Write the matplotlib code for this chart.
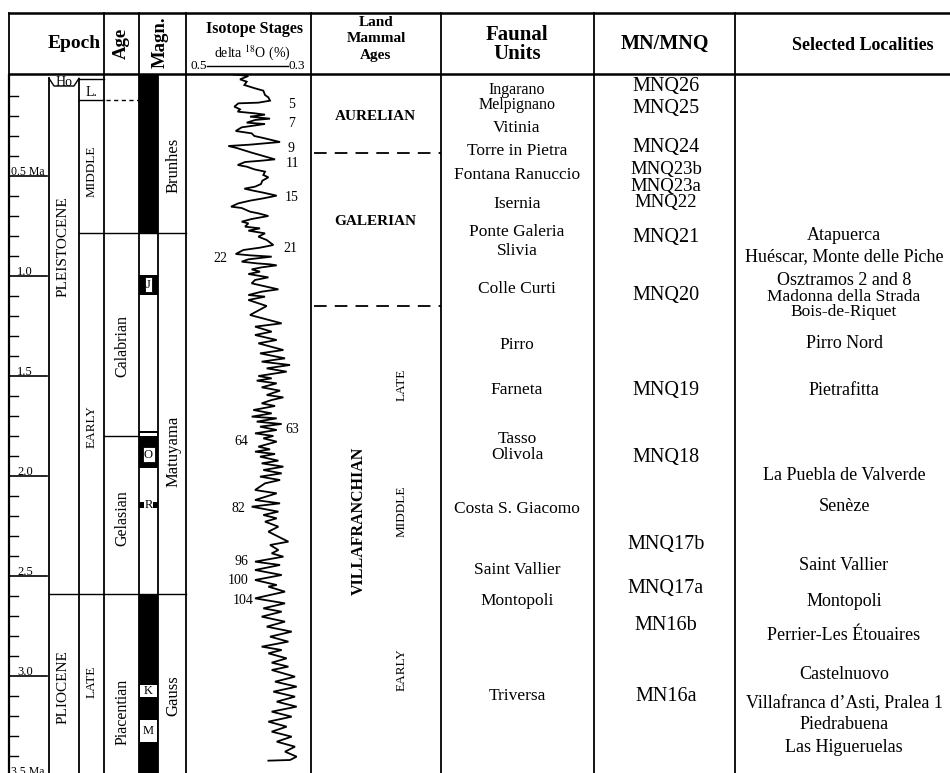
import matplotlib
matplotlib.use("Agg")
import matplotlib.pyplot as plt
from matplotlib.patches import Rectangle
from matplotlib.transforms import blended_transform_factory

plt.rcParams['font.family'] = ['Liberation Serif', 'DejaVu Serif']
plt.rcParams['mathtext.fontset'] = 'stix'

# ------------------------------------------------------------------ data
# isotope curve (age in Ma, delta 18O value)
iso_age = [-0.01, 0.0, 0.0167, 0.0283, 0.045, 0.0617, 0.0733, 0.095, 0.1067, 0.1233,
           0.1333, 0.1367, 0.1533, 0.1667, 0.1783, 0.1867, 0.1933, 0.2033, 0.2133, 0.22,
           0.2333, 0.24, 0.2567, 0.275, 0.2867, 0.30, 0.31, 0.33, 0.3367, 0.3433,
           0.35, 0.36, 0.3833, 0.40, 0.4167, 0.4233, 0.43, 0.445, 0.4533, 0.4667,
           0.4783, 0.495, 0.5067, 0.5233, 0.54, 0.5533, 0.5633, 0.5733, 0.5833, 0.5983,
           0.6117, 0.6233, 0.6367, 0.6533, 0.66, 0.6783, 0.6867, 0.70, 0.715, 0.7283,
           0.7367, 0.7533, 0.7617, 0.7733, 0.7867, 0.8033, 0.82, 0.845, 0.8583, 0.87,
           0.89, 0.8967, 0.9033, 0.9167, 0.9283, 0.9367, 0.9417, 0.9467, 0.9567, 0.9667,
           0.9783, 0.99, 1.0067, 1.02, 1.0367, 1.0667, 1.0783, 1.095, 1.1033, 1.12,
           1.15, 1.195, 1.2367, 1.2533, 1.2783, 1.295, 1.32, 1.3367, 1.37, 1.3867,
           1.4117, 1.4283, 1.445, 1.4617, 1.4783, 1.50, 1.5117, 1.5233, 1.5367, 1.5567,
           1.5733, 1.595, 1.6067, 1.62, 1.6367, 1.65, 1.67, 1.6867, 1.7033, 1.7117,
           1.7283, 1.74, 1.7533, 1.77, 1.7867, 1.80, 1.8117, 1.8283, 1.8533, 1.8667,
           1.8783, 1.89, 1.9033, 1.9233, 1.9367, 1.9533, 1.97, 1.9867, 2.0033, 2.02,
           2.0367, 2.07, 2.0867, 2.12, 2.1367, 2.1533, 2.1783, 2.195, 2.2117, 2.2283,
           2.2533, 2.2783, 2.3283, 2.345, 2.37, 2.3867, 2.4033, 2.4283, 2.445, 2.47,
           2.495, 2.52, 2.545, 2.5533, 2.5783, 2.6117, 2.6367, 2.6617, 2.6783, 2.7033,
           2.7283, 2.7533, 2.7783, 2.8033, 2.8283, 2.8533, 2.87, 2.8867, 2.9117, 2.9333,
           2.9533, 2.97, 3.0033, 3.0283, 3.0533, 3.0783, 3.1033, 3.1283, 3.1533, 3.1783,
           3.2033, 3.2283, 3.2533, 3.2783, 3.3033, 3.3283, 3.3533, 3.3783, 3.4033, 3.42,
           3.4233]
iso_d18o = [0.4432, 0.3979, 0.4185, 0.4020, 0.4078, 0.3814, 0.3609, 0.3568, 0.3485, 0.3444,
            0.3732, 0.4226, 0.4325, 0.4185, 0.4242, 0.3814, 0.3568, 0.3938, 0.3444, 0.3814,
            0.4020, 0.3568, 0.4144, 0.4292, 0.3897, 0.3831, 0.3609, 0.3197, 0.3568, 0.3938,
            0.4473, 0.4267, 0.3897, 0.3609, 0.3321, 0.3650, 0.4061, 0.4242, 0.4020, 0.3831,
            0.3568, 0.3609, 0.3485, 0.3633, 0.3666, 0.3814, 0.4078, 0.3856, 0.3609, 0.3279,
            0.3609, 0.3938, 0.4226, 0.4407, 0.4144, 0.3938, 0.3732, 0.3485, 0.3897, 0.4144,
            0.3979, 0.4061, 0.3691, 0.3979, 0.3568, 0.3732, 0.3526, 0.3362, 0.3691, 0.4102,
            0.4292, 0.3938, 0.3403, 0.3979, 0.4144, 0.3773, 0.3444, 0.3279, 0.3650, 0.3897,
            0.3691, 0.3979, 0.3485, 0.3814, 0.3897, 0.3238, 0.3650, 0.3979, 0.3568, 0.3979,
            0.3526, 0.3938, 0.3156, 0.3814, 0.3403, 0.3814, 0.3279, 0.3732, 0.3115, 0.3691,
            0.3074, 0.3650, 0.2950, 0.3526, 0.3033, 0.3732, 0.3403, 0.3773, 0.3279, 0.3650,
            0.3197, 0.3526, 0.3115, 0.3403, 0.3650, 0.3321, 0.3856, 0.3403, 0.3897, 0.3279,
            0.3773, 0.3156, 0.3691, 0.3279, 0.3814, 0.3362, 0.3609, 0.3279, 0.3732, 0.3444,
            0.3814, 0.3321, 0.3691, 0.3238, 0.3650, 0.3115, 0.3609, 0.3156, 0.3691, 0.3197,
            0.3568, 0.3814, 0.3279, 0.3814, 0.3197, 0.3897, 0.3238, 0.3609, 0.3279, 0.3568,
            0.3238, 0.3485, 0.2991, 0.3444, 0.3238, 0.3403, 0.3115, 0.3814, 0.3197, 0.3814,
            0.3156, 0.3814, 0.3279, 0.3485, 0.3074, 0.3814, 0.3074, 0.3609, 0.3156, 0.3650,
            0.3074, 0.3526, 0.2909, 0.3444, 0.2991, 0.3650, 0.3156, 0.3485, 0.3033, 0.3403,
            0.2991, 0.3403, 0.2827, 0.3321, 0.2786, 0.3362, 0.2827, 0.3279, 0.2786, 0.3403,
            0.2909, 0.3485, 0.3033, 0.3403, 0.2909, 0.3279, 0.2827, 0.3074, 0.2786, 0.2950,
            0.3485]

stage_numbers = ['5', '7', '9', '11', '15', '21', '22', '63', '64', '82', '96', '100', '104']
stage_ages = [0.1335, 0.2283, 0.3533, 0.4283, 0.60, 0.8567, 0.9033, 1.7617, 1.82,
              2.1533, 2.42, 2.5167, 2.6167]
stage_label_d18o = [0.2921, 0.2921, 0.2914, 0.2894, 0.2921, 0.2951, 0.4679, 0.2894,
                    0.4143, 0.4227, 0.4143, 0.4227, 0.4104]

# magnetostratigraphy
normal_start = [-0.01, 0.995, 1.775, 2.1285, 2.59]
normal_end = [0.785, 1.095, 1.96, 2.1615, 3.49]
reversed_start = [1.787, 3.045, 3.22]
reversed_end = [1.80, 3.105, 3.33]
subchron_names = ['J', 'O', 'R', 'K', 'M']
subchron_ages = [1.045, 1.895, 2.145, 3.075, 3.275]
chron_names = ['Brunhes', 'Matuyama', 'Gauss']
chron_label_ages = [0.445, 1.875, 3.10]

# chronostratigraphy
epoch_names = ['PLEISTOCENE', 'PLIOCENE']
epoch_label_ages = [0.855, 3.055]
subepoch_names = ['MIDDLE', 'EARLY', 'LATE']
subepoch_label_ages = [0.475, 1.755, 3.03]
age_names = ['Calabrian', 'Gelasian', 'Piacentian']
age_label_ages = [1.35, 2.21, 3.18]
holocene_top, holocene_box_base = 0.0115, 0.05
upper_pleist_top, upper_pleist_base = 0.015, 0.12
middle_early_boundary = 0.785
calabrian_gelasian_boundary = 1.7985
plio_pleisto_boundary = 2.59

# land mammal ages
lma_names = ['AURELIAN', 'GALERIAN', 'VILLAFRANCHIAN']
lma_label_ages = [0.195, 0.72, 2.2235]
lma_boundaries = [0.3865, 1.15]
villa_sub_names = ['LATE', 'MIDDLE', 'EARLY']
villa_sub_ages = [1.545, 2.1785, 2.97]

faunal_units = ['Ingarano', 'Melpignano', 'Vitinia', 'Torre in Pietra', 'Fontana Ranuccio',
                'Isernia', 'Ponte Galeria', 'Slivia', 'Colle Curti', 'Pirro', 'Farneta',
                'Tasso', 'Olivola', 'Costa S. Giacomo', 'Saint Vallier', 'Montopoli',
                'Triversa']
faunal_ages = [0.058, 0.134, 0.25, 0.3665, 0.4865, 0.6285, 0.77, 0.8665, 1.0535,
               1.3365, 1.5615, 1.8035, 1.8865, 2.1535, 2.4615, 2.615, 3.0915]

mn_zones = ['MNQ26', 'MNQ25', 'MNQ24', 'MNQ23b', 'MNQ23a', 'MNQ22', 'MNQ21', 'MNQ20',
            'MNQ19', 'MNQ18', 'MNQ17b', 'MNQ17a', 'MN16b', 'MN16a']
mn_ages = [0.04, 0.15, 0.345, 0.457, 0.541, 0.624, 0.795, 1.0865, 1.5615, 1.895,
           2.3285, 2.55, 2.7335, 3.09]

localities = ['Atapuerca', 'Huéscar, Monte delle Piche', 'Osztramos 2 and 8',
              'Madonna della Strada', 'Bois-de-Riquet', 'Pirro Nord', 'Pietrafitta',
              'La Puebla de Valverde', 'Senèze', 'Saint Vallier', 'Montopoli',
              'Perrier-Les Étouaires', 'Castelnuovo', 'Villafranca d\u2019Asti, Pralea 1',
              'Piedrabuena', 'Las Higueruelas']
locality_ages = [0.7865, 0.895, 1.0115, 1.096, 1.172, 1.3285, 1.5615, 1.9865, 2.145,
                 2.4365, 2.62, 2.7865, 2.9835, 3.1285, 3.2335, 3.345]

time_major = [0.5, 1.0, 1.5, 2.0, 2.5, 3.0, 3.5]
time_major_labels = ['0.5 Ma', '1.0', '1.5', '2.0', '2.5', '3.0', '3.5 Ma']
time_minor = [0.1, 0.2, 0.3, 0.4, 0.6, 0.7, 0.8, 0.9, 1.1, 1.2, 1.3, 1.4, 1.6, 1.7,
              1.8, 1.9, 2.1, 2.2, 2.3, 2.4, 2.6, 2.7, 2.8, 2.9, 3.1, 3.2, 3.3, 3.4]

# ------------------------------------------------------------------ layout
W, H = 950, 773
HEAD = 74
T_TOP, T_BOT = -0.01, 3.485
X_LEFT, X_TICK, X_EPOCH2, X_AGE, X_MAG, X_MAG2, X_ISO, X_LMA, X_FU, X_MN, X_LOC = \
    9, 49, 79, 104, 139, 158, 186, 311, 441, 594, 735
LW = 1.3

fig = plt.figure(figsize=(W / 100, H / 100), dpi=100)
body_h = (H - HEAD) / H
ax = fig.add_axes([0, 0, 1, body_h])
ax.set_xlim(0, W)
ax.set_ylim(T_BOT, T_TOP)
ax.axis('off')

hx = fig.add_axes([0, body_h, 1, HEAD / H])
hx.set_xlim(0, W)
hx.set_ylim(HEAD, 0)
hx.axis('off')

iso = fig.add_axes([X_ISO / W, 0, (X_LMA - X_ISO) / W, body_h])
iso.set_xlim(0.5519, 0.2432)
iso.set_ylim(T_BOT, T_TOP)
iso.axis('off')

# ---------------- header
hx.plot([X_LEFT, W], [13, 13], color='k', lw=1.8, clip_on=False)
hx.plot([X_LEFT, W], [HEAD, HEAD], color='k', lw=1.8, clip_on=False)
for xv in [X_LEFT, X_AGE, X_MAG, X_ISO, X_LMA, X_FU, X_MN, X_LOC]:
    hx.plot([xv, xv], [13, HEAD], color='k', lw=LW)

hb = dict(fontweight='bold', ha='center', va='center')
hx.text(74, 43, 'Epoch', fontsize=14, **hb)
hx.text(121, 43, 'Age', fontsize=13.5, rotation=90, **hb)
hx.text(160, 42, 'Magn.', fontsize=13.5, rotation=90, **hb)
hx.text(254, 29, 'Isotope Stages', fontsize=11.5, **hb)
hx.text(252, 53, r'delta $^{18}$O (%)', fontsize=10, ha='center', va='center')
tr = blended_transform_factory(iso.transData, hx.transData)
hx.plot([0.5, 0.3], [66, 66], color='k', lw=1.0, transform=tr)
hx.text(0.5, 66, '0.5', fontsize=9.5, ha='right', va='center', transform=tr)
hx.text(0.3, 66, '0.3', fontsize=9.5, ha='left', va='center', transform=tr)
hx.text(376, 23, 'Land', fontsize=11, **hb)
hx.text(376, 39, 'Mammal', fontsize=11, **hb)
hx.text(376, 56, 'Ages', fontsize=11, **hb)
hx.text(517, 35, 'Faunal', fontsize=15, **hb)
hx.text(517, 54, 'Units', fontsize=15, **hb)
hx.text(665, 44, 'MN/MNQ', fontsize=14.5, **hb)
hx.text(863, 45, 'Selected Localities', fontsize=13, **hb)

# ---------------- body frame lines
ax.plot([X_LEFT, X_LEFT], [T_TOP, T_BOT], color='k', lw=1.6)
ax.plot([X_TICK, X_TICK], [holocene_top, T_BOT], color='k', lw=LW)
ax.plot([X_EPOCH2, X_EPOCH2], [upper_pleist_top, T_BOT], color='k', lw=LW)
for xv in [X_AGE, X_MAG, X_MAG2, X_ISO, X_LMA, X_FU, X_MN, X_LOC]:
    ax.plot([xv, xv], [T_TOP, T_BOT], color='k', lw=LW)

# time scale ticks
for t in time_minor:
    ax.plot([10, 18], [t, t], color='k', lw=1.0)
for t, lab in zip(time_major, time_major_labels):
    ax.plot([10, 47], [t, t], color='k', lw=1.2, clip_on=False)
    if lab.endswith('Ma'):
        ax.text(11, t - 0.006, lab, fontsize=8.5, ha='left', va='baseline')
    else:
        ax.text(25, t - 0.006, lab, fontsize=9, ha='center', va='baseline')

# Holocene callout and upper Pleistocene box
ax.plot([X_TICK, 54, 74, X_EPOCH2], [holocene_top, holocene_box_base, holocene_box_base,
        holocene_top], color='k', lw=1.0)
ax.text(64, (holocene_top + holocene_box_base) / 2 + 0.003, 'Ho', fontsize=10,
        ha='center', va='center')
ax.plot([X_EPOCH2, X_AGE], [upper_pleist_top, upper_pleist_top], color='k', lw=1.0)
ax.plot([X_EPOCH2, X_AGE], [upper_pleist_base, upper_pleist_base], color='k', lw=1.0)
ax.plot([X_AGE + 2, X_MAG], [upper_pleist_base, upper_pleist_base], color='k', lw=1.0,
        linestyle=(0, (3, 2.5)))
ax.text(91, upper_pleist_base - 0.035, 'L.', fontsize=10, ha='center', va='center')

# chronostratigraphic boundaries
ax.plot([X_EPOCH2, X_ISO], [middle_early_boundary] * 2, color='k', lw=1.0)
ax.plot([X_AGE, X_MAG], [calabrian_gelasian_boundary] * 2, color='k', lw=1.0)
ax.plot([X_TICK, X_ISO], [plio_pleisto_boundary] * 2, color='k', lw=1.0)

rot = dict(rotation=90, ha='center', va='center', rotation_mode='anchor')
for name, t in zip(epoch_names, epoch_label_ages):
    ax.text(63, t, name, fontsize=11, **rot)
for name, t in zip(subepoch_names, subepoch_label_ages):
    ax.text(91.5, t, name, fontsize=9.5, **rot)
for name, t in zip(age_names, age_label_ages):
    ax.text(122.5, t, name, fontsize=11.5, **rot)

# magnetic polarity bar
for s, e in zip(normal_start, normal_end):
    ax.add_patch(Rectangle((X_MAG, s), X_MAG2 - X_MAG, e - s, facecolor='k',
                           edgecolor='none', zorder=2))
for s, e in zip(reversed_start, reversed_end):
    ax.add_patch(Rectangle((X_MAG + 0.8, s), X_MAG2 - X_MAG - 1.6, e - s, facecolor='white',
                           edgecolor='none', zorder=3))
for name, t in zip(subchron_names, subchron_ages):
    if name in ('J', 'O'):
        bb = dict(boxstyle='square,pad=0.12', facecolor='white', edgecolor='k', lw=0.6)
    elif name == 'R':
        bb = dict(boxstyle='square,pad=0.05', facecolor='white', edgecolor='none')
    else:
        bb = None
    ax.text(148.5, t, name, fontsize=9, ha='center', va='center', bbox=bb, zorder=4)
for name, t in zip(chron_names, chron_label_ages):
    ax.text(173.5, t, name, fontsize=12, **rot)

# isotope curve
iso.plot(iso_d18o, iso_age, color='k', lw=1.3, solid_joinstyle='miter')
for lab, t, x in zip(stage_numbers, stage_ages, stage_label_d18o):
    iso.text(x, t, lab, fontsize=10, ha='center', va='center_baseline')

# land mammal ages
for t in lma_boundaries:
    ax.plot([X_LMA + 3, X_FU], [t, t], color='k', lw=1.3, linestyle=(0, (7, 4.5)))
for name, t in zip(lma_names[:2], lma_label_ages[:2]):
    ax.text(375, t, name, fontsize=11, fontweight='bold', ha='center',
            va='center_baseline')
ax.text(359, lma_label_ages[2], lma_names[2], fontsize=11.5, fontweight='bold', **rot)
for name, t in zip(villa_sub_names, villa_sub_ages):
    ax.text(402, t, name, fontsize=9.5, **rot)


def stacked(ages, i, gap):
    """True when a label sits closer than `gap` Ma to a neighbour."""
    near = [abs(ages[i] - ages[j]) for j in (i - 1, i + 1) if 0 <= j < len(ages)]
    return min(near) < gap


# faunal units, MN zones, localities
for i, (name, t) in enumerate(zip(faunal_units, faunal_ages)):
    fs = 11.5 if stacked(faunal_ages, i, 0.08) else 12.5
    ax.text(517, t, name, fontsize=fs, ha='center', va='center_baseline')
for i, (name, t) in enumerate(zip(mn_zones, mn_ages)):
    fs = 13.5 if stacked(mn_ages, i, 0.09) else 14.5
    ax.text(666, t, name, fontsize=fs, ha='center', va='center_baseline')
for i, (name, t) in enumerate(zip(localities, locality_ages)):
    fs = 12.5 if stacked(locality_ages, i, 0.08) else 13
    ax.text(844, t, name, fontsize=fs, ha='center', va='center_baseline')

fig.savefig('out.png', dpi=100)
